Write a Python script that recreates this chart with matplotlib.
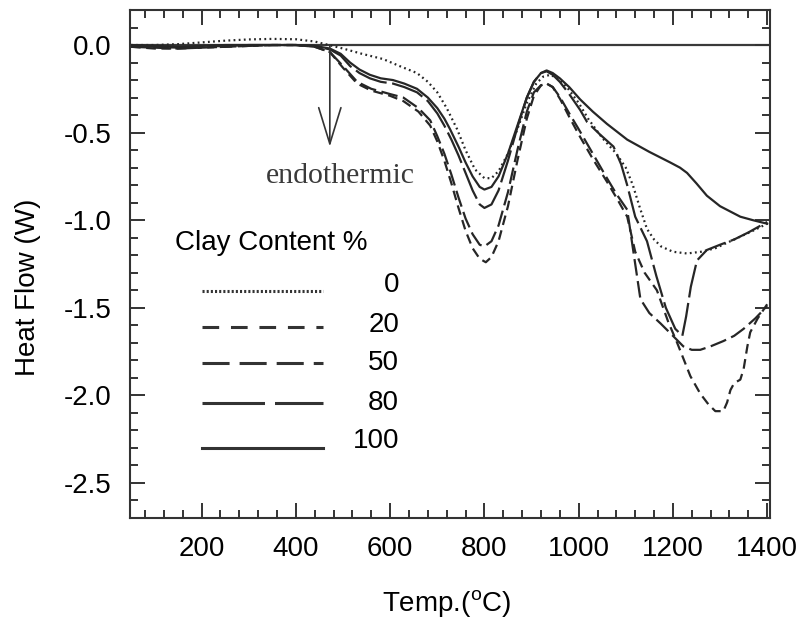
import matplotlib
matplotlib.use("Agg")
import matplotlib.pyplot as plt
from matplotlib.lines import Line2D
from matplotlib.ticker import MultipleLocator, FormatStrFormatter

plt.rcParams['font.family'] = ['Liberation Sans', 'DejaVu Sans']
plt.rcParams['axes.unicode_minus'] = False
plt.rcParams['lines.scale_dashes'] = False
plt.rcParams['mathtext.fontset'] = 'custom'
plt.rcParams['mathtext.rm'] = 'Liberation Sans'

# ---------------- data ----------------
labels = ["0", "20", "50", "80", "100"]

x_0 = [50, 100, 150, 200, 250, 300, 350, 400, 440, 470, 500, 540, 585, 620, 657, 680, 700, 720, 742, 760, 780,
       800, 815, 830, 850, 870, 890, 910, 925, 940, 955, 975, 1000, 1020, 1050, 1080, 1100, 1115, 1130, 1145,
       1160, 1175, 1200, 1230, 1260, 1290, 1330, 1370, 1400]
y_0 = [0, 0, 0.005, 0.015, 0.025, 0.032, 0.035, 0.033, 0.02, 0.0, -0.02, -0.05, -0.08, -0.12, -0.16, -0.21,
       -0.27, -0.36, -0.48, -0.60, -0.71, -0.76, -0.76, -0.72, -0.62, -0.48, -0.33, -0.22, -0.18, -0.17, -0.19,
       -0.24, -0.33, -0.42, -0.53, -0.62, -0.70, -0.80, -0.93, -1.05, -1.11, -1.15, -1.18, -1.19, -1.18, -1.16,
       -1.11, -1.06, -1.02]

x_20 = [50, 100, 150, 200, 250, 300, 350, 400, 440, 472, 500, 530, 560, 600, 628, 660, 685, 700, 715, 730, 745,
        760, 775, 790, 803, 815, 830, 850, 870, 890, 905, 920, 932, 945, 961, 980, 1000, 1030, 1060, 1082, 1103,
        1120, 1140, 1166, 1190, 1209, 1237, 1258, 1275, 1290, 1307, 1315, 1322, 1330, 1343, 1350, 1358, 1364,
        1380, 1400]
y_20 = [-0.01, -0.02, -0.02, -0.015, -0.01, -0.005, 0, 0, -0.01, -0.04, -0.13, -0.22, -0.26, -0.29, -0.32, -0.38,
        -0.46, -0.55, -0.66, -0.79, -0.93, -1.06, -1.16, -1.22, -1.24, -1.21, -1.12, -0.92, -0.66, -0.42, -0.29,
        -0.23, -0.22, -0.24, -0.31, -0.41, -0.51, -0.65, -0.78, -0.88, -0.98, -1.18, -1.30, -1.40, -1.58, -1.70,
        -1.89, -1.99, -2.05, -2.09, -2.09, -2.04, -1.97, -1.93, -1.91, -1.85, -1.72, -1.64, -1.56, -1.48]

x_50 = [50, 100, 150, 200, 250, 300, 350, 400, 440, 472, 500, 530, 560, 600, 628, 660, 685, 700, 715, 730, 745,
        760, 775, 790, 800, 815, 830, 850, 870, 890, 905, 920, 932, 945, 961, 980, 1000, 1030, 1060, 1080, 1103,
        1120, 1131, 1150, 1174, 1200, 1222, 1240, 1258, 1280, 1307, 1330, 1350, 1375, 1400]
y_50 = [-0.01, -0.015, -0.02, -0.015, -0.01, -0.005, 0, 0, -0.01, -0.04, -0.12, -0.21, -0.25, -0.28, -0.30, -0.36,
        -0.43, -0.52, -0.62, -0.74, -0.87, -0.99, -1.08, -1.14, -1.15, -1.12, -1.03, -0.84, -0.60, -0.38, -0.27,
        -0.23, -0.22, -0.24, -0.30, -0.39, -0.48, -0.62, -0.76, -0.85, -0.94, -1.25, -1.45, -1.53, -1.59, -1.66,
        -1.72, -1.74, -1.74, -1.72, -1.69, -1.66, -1.62, -1.56, -1.49]

x_80 = [50, 100, 150, 200, 250, 300, 350, 400, 440, 472, 495, 515, 535, 557, 580, 606, 630, 657, 680, 700, 715,
        730, 745, 760, 775, 790, 800, 815, 830, 850, 870, 890, 905, 920, 932, 945, 960, 980, 1003, 1018, 1045,
        1074, 1090, 1103, 1120, 1145, 1165, 1185, 1205, 1220, 1228, 1238, 1251, 1272, 1300, 1330, 1360, 1400]
y_80 = [-0.005, -0.01, -0.015, -0.01, -0.005, 0, 0, 0, -0.005, -0.025, -0.06, -0.12, -0.16, -0.19, -0.21, -0.22,
        -0.24, -0.27, -0.32, -0.39, -0.46, -0.54, -0.63, -0.73, -0.83, -0.91, -0.93, -0.91, -0.83, -0.66, -0.47,
        -0.30, -0.21, -0.16, -0.15, -0.17, -0.21, -0.28, -0.37, -0.44, -0.51, -0.58, -0.68, -0.80, -0.98, -1.12,
        -1.32, -1.50, -1.62, -1.66, -1.55, -1.38, -1.23, -1.17, -1.14, -1.11, -1.07, -1.01]

x_100 = [50, 100, 150, 200, 250, 300, 350, 400, 440, 472, 495, 515, 535, 557, 580, 606, 630, 657, 680, 700, 715,
         727, 745, 760, 775, 790, 800, 815, 830, 850, 870, 890, 905, 920, 932, 945, 960, 980, 1003, 1030, 1060,
         1103, 1150, 1194, 1215, 1230, 1250, 1272, 1300, 1343, 1370, 1400]
y_100 = [0, -0.005, -0.01, -0.005, 0, 0, 0, 0, -0.005, -0.02, -0.05, -0.10, -0.14, -0.17, -0.19, -0.20, -0.22,
         -0.25, -0.30, -0.36, -0.42, -0.48, -0.58, -0.67, -0.75, -0.81, -0.825, -0.81, -0.75, -0.62, -0.46, -0.30,
         -0.21, -0.16, -0.145, -0.16, -0.19, -0.24, -0.31, -0.38, -0.45, -0.54, -0.61, -0.67, -0.70, -0.73, -0.79,
         -0.86, -0.92, -0.98, -1.00, -1.02]

series_x = [x_0, x_20, x_50, x_80, x_100]
series_y = [y_0, y_20, y_50, y_80, y_100]

x_ticks = [200, 400, 600, 800, 1000, 1200, 1400]
y_ticks = [0.0, -0.5, -1.0, -1.5, -2.0, -2.5]

arrow_x = 472
arrow_y0, arrow_y1 = 0.0, -0.58

# ---------------- styles ----------------
W, H = 809, 623
plot_styles = [(0, (1.3, 2.4)), (0, (7, 4)), (0, (12, 4)), (0, (24, 4)), '-']
legend_styles = [(0, (1.5, 1.5)), (0, (12, 8.5)), (0, (19.5, 7.2)), (0, (45, 7.2)), '-']
ink = '#262626'

fig = plt.figure(figsize=(W / 100, H / 100), dpi=100)
fig.patch.set_facecolor('white')
ax = fig.add_axes([130 / W, 1 - 518 / H, 640 / W, 508 / H])

ax.axhline(0, color='#3a3a3a', lw=1.6, zorder=1)
for xs, ys, ls in zip(series_x, series_y, plot_styles):
    ax.plot(xs, ys, color=ink, lw=1.6, linestyle=ls, zorder=2)

ax.set_xlim(48, 1406)
ax.set_ylim(-2.70, 0.20)
ax.set_xticks(x_ticks)
ax.set_yticks(y_ticks)
ax.xaxis.set_minor_locator(MultipleLocator(40))
ax.yaxis.set_minor_locator(MultipleLocator(0.1))
ax.yaxis.set_major_formatter(FormatStrFormatter('%.1f'))
ax.tick_params(which='both', direction='in', top=True, right=True, colors='#333333', width=1.4)
ax.tick_params(which='major', length=11, labelsize=20, labelcolor='black', pad=13)
ax.tick_params(which='minor', length=5.5)
for s in ax.spines.values():
    s.set_color('#333333')
    s.set_linewidth(1.5)

ax.annotate('', xy=(arrow_x, arrow_y1), xytext=(arrow_x, arrow_y0),
            arrowprops=dict(arrowstyle='->,head_length=2.6,head_width=0.8', mutation_scale=10,
                            lw=1.2, color='#333333', shrinkA=0, shrinkB=0))

def fx(px):
    return px / W

def fy(py):
    return 1 - py / H

fig.text(fx(340), fy(176), 'endothermic', family='Liberation Serif', fontsize=21.5,
         color='#3a3a3a', ha='center', va='center')

fig.text(fx(28), fy(287), 'Heat Flow (W)', rotation=90, fontsize=20, ha='center', va='center')
fig.text(fx(447), fy(604), r'Temp.($^{\mathrm{o}}$C)', fontsize=20, ha='center', va='center')

# legend
fig.text(fx(175), fy(243), 'Clay Content %', fontsize=20, ha='left', va='center')
row_line = [291, 327, 363, 403, 448]
row_text = [285, 325, 363, 403, 441]
for lab, ls, yl, yt in zip(labels, legend_styles, row_line, row_text):
    fig.add_artist(Line2D([fx(202), fx(323)], [fy(yl), fy(yl)], color='#333333', lw=2.2, linestyle=ls))
    fig.text(fx(399), fy(yt), lab, fontsize=20, ha='right', va='center')

fig.savefig('out.png', dpi=100)
